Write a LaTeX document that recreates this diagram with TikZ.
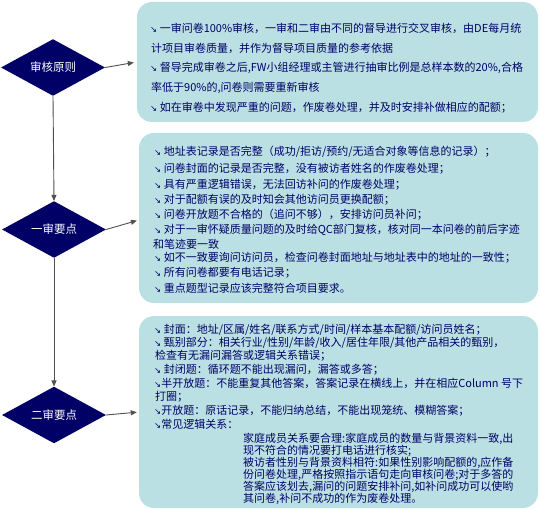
\documentclass[tikz,border=0pt]{standalone}
\usepackage{fontspec}
\newfontfamily\cjk{Noto Sans CJK SC}
\newfontfamily\dvs{DejaVu Sans}
\usetikzlibrary{shapes.geometric,arrows.meta}
\definecolor{navy}{RGB}{0,0,102}
\definecolor{boxfill}{RGB}{186,224,228}
\definecolor{linegray}{RGB}{80,80,80}
\newcommand\bul{{\dvs\fontsize{8.5}{8.5}\selectfont ↘}}
\begin{document}
\begin{tikzpicture}[x=1pt,y=-1pt,
  dia/.style={shape=diamond,fill=navy,draw=none,minimum width=104pt,minimum height=45pt,inner sep=0pt,text=white,font=\cjk\fontsize{11.5}{13}\selectfont},
  panel/.style={fill=boxfill,draw=none,rounded corners=15pt},
  txt/.style={anchor=west,inner sep=0pt,text=navy,font=\cjk\fontsize{11}{13}\selectfont},
  txtA/.style={txt,font=\cjk\fontsize{11}{13}\selectfont},
  conn/.style={draw=linegray,line width=0.9pt,-{Triangle[length=6pt,width=5pt]},color=linegray}
]
\useasboundingbox (0,0) rectangle (540,510);
% panels
\path[panel] (137,2) rectangle (538,122);
\node[inner sep=0,minimum size=0] (p1) at (137,62) {};
\path[panel] (139,133) rectangle (538,303);
\node[inner sep=0,minimum size=0] (p2) at (139,220) {};
\path[panel] (139,316) rectangle (538,508);
\node[inner sep=0,minimum size=0] (p3) at (139,412) {};
% diamonds
\node[dia] (d1) at (53,67.5) {审核原则};
\node[dia] (d2) at (54,229.5) {一审要点};
\node[dia] (d3) at (54,415) {二审要点};
% connectors
\draw[conn] (d1.south) -- (d2.north);
\draw[conn] (d2.south) -- (d3.north);
\draw[conn,shorten >=3pt] (d1.east) -- (p1);
\draw[conn,shorten >=2pt] (d2.east) -- (p2);
\draw[conn,shorten >=2pt] (d3.east) -- (p3);
% box 1
\node[txtA] (a1) at (150,28) {\bul\ 一审问卷100\%审核，一审和二审由不同的督导进行交叉审核，由DE每月统};
\node[txtA] (a2) at (151,48) {计项目审卷质量，并作为督导项目质量的参考依据};
\node[txtA] (a3) at (150,68) {\bul\ 督导完成审卷之后,FW小组经理或主管进行抽审比例是总样本数的20\%,合格};
\node[txtA] (a4) at (151,88) {率低于90\%的,问卷则需要重新审核};
\node[txtA] (a5) at (150,108) {\bul\ 如在审卷中发现严重的问题，作废卷处理，并及时安排补做相应的配额；};
% box 2
\node[txt] (b1) at (154,152) {\bul\ 地址表记录是否完整（成功/拒访/预约/无适合对象等信息的记录）；};
\node[txt] (b2) at (154,169) {\bul\ 问卷封面的记录是否完整，没有被访者姓名的作废卷处理；};
\node[txt] (b3) at (154,185) {\bul\ 具有严重逻辑错误，无法回访补问的作废卷处理；};
\node[txt] (b4) at (154,200) {\bul\ 对于配额有误的及时知会其他访问员更换配额；};
\node[txt] (b5) at (154,215) {\bul\ 问卷开放题不合格的（追问不够），安排访问员补问；};
\node[txt] (b6) at (154,230) {\bul\ 对于一审怀疑质量问题的及时给QC部门复核，核对同一本问卷的前后字迹};
\node[txt] (b7) at (153,244) {和笔迹要一致};
\node[txt] (b8) at (154,258) {\bul\ 如不一致要询问访问员，检查问卷封面地址与地址表中的地址的一致性；};
\node[txt] (b9) at (154,273) {\bul\ 所有问卷都要有电话记录；};
\node[txt] (b10) at (154,288) {\bul\ 重点题型记录应该完整符合项目要求。};
% box 3
\node[txt] (c1) at (154,330) {\bul\ 封面：地址/区属/姓名/联系方式/时间/样本基本配额/访问员姓名；};
\node[txt] (c2) at (154,343) {\bul\ 甄别部分：相关行业/性别/年龄/收入/居住年限/其他产品相关的甄别，};
\node[txt] (c3) at (155,356) {检查有无漏问漏答或逻辑关系错误；};
\node[txt] (c4) at (154,370) {\bul\ 封闭题：循环题不能出现漏问，漏答或多答；};
\node[txt] (c5) at (154,383) {\bul 半开放题：不能重复其他答案，答案记录在横线上，并在相应Column 号下};
\node[txt] (c6) at (155,397) {打圈；};
\node[txt] (c7) at (154,411) {\bul 开放题：原话记录，不能归纳总结，不能出现笼统、模糊答案；};
\node[txt] (c8) at (154,424) {\bul 常见逻辑关系：};
\node[txt] (s1) at (243,439) {家庭成员关系要合理:家庭成员的数量与背景资料一致,出};
\node[txt] (s2) at (243,451) {现不符合的情况要打电话进行核实;};
\node[txt] (s3) at (243,463) {被访者性别与背景资料相符:如果性别影响配额的,应作备};
\node[txt] (s4) at (243,475) {份问卷处理,严格按照指示语句走向审核问卷;对于多答的};
\node[txt] (s5) at (243,487) {答案应该划去,漏问的问题安排补问,如补问成功可以使哟};
\node[txt] (s6) at (243,499) {其问卷,补问不成功的作为废卷处理。};
\end{tikzpicture}
\end{document}
